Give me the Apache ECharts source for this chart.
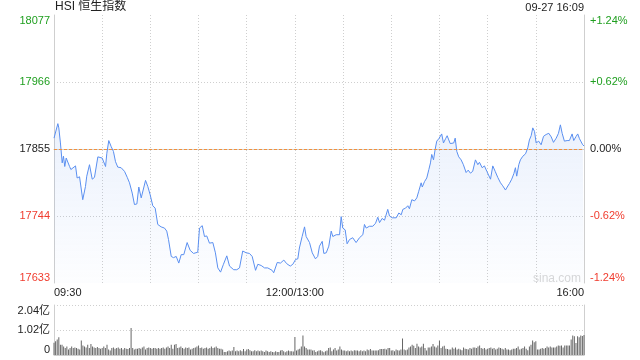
<!DOCTYPE html>
<html><head><meta charset="utf-8">
<script src="https://cdn.jsdelivr.net/npm/echarts@6/dist/echarts.min.js"></script>
<style>html,body{margin:0;padding:0;background:#fff}#c{width:640px;height:360px}</style>
</head><body><div id="c"></div>
<script>
const chartTitle = 'HSI 恒生指数';
const stamp = '09-27 16:09';
const watermark = 'sina.com';
const prevClose = 17855;
const priceTicks = [17633, 17744, 17855, 17966, 18077];
const pctTicks = [-1.24, -0.62, 0, 0.62, 1.24];
const volTicks = [0, 1.02, 2.04];
const timeLabels = {0: '09:30', 150: '12:00/13:00', 330: '16:00'};

// minutes since 09:30 (lunch break removed) and index level
const priceMinutes = [0,0.9,2.4,3.0,4.0,5.1,5.9,6.7,7.6,8.6,9.7,10.5,11.7,13.4,14.4,15.9,17.9,19.6,20.4,22.1,23.8,25.2,27.3,30.0,32.1,32.9,34.1,35.6,37.0,38.3,39.7,41.8,43.9,45.6,47.0,48.7,50.1,51.6,52.8,54.3,55.3,57.0,58.4,59.9,61.5,63.0,64.6,66.7,68.8,70.2,71.3,73.0,74.4,76.1,77.7,79.2,80.8,82.9,84.8,86.9,89.5,90.6,92.3,93.7,95.1,96.8,98.9,100.5,102.0,103.7,105.5,107.6,109.3,110.3,111.9,113.8,115.5,117.5,119.7,121.7,123.4,125.5,126.9,129.0,131.1,133.1,135.8,136.8,139.0,141.0,143.1,144.9,147.1,148.7,150.4,151.8,152.8,154.5,156.0,157.0,159.1,160.8,162.8,164.2,165.3,167.0,168.0,169.5,171.1,172.6,173.6,175.7,177.8,178.8,179.8,181.3,182.5,184.0,186.0,188.1,190.2,192.3,193.3,194.4,196.4,198.5,200.2,201.6,202.7,204.3,205.8,207.8,208.9,210.6,213.1,214.7,216.2,217.2,218.9,220.3,221.3,222.8,224.5,225.9,227.1,228.6,229.3,230.7,232.1,233.4,234.4,235.2,236.3,237.3,238.3,239.6,241.4,242.5,243.8,244.8,245.8,246.7,247.9,248.9,249.8,250.8,252.0,253.5,254.9,256.6,257.9,259.3,260.7,262.4,263.9,264.9,266.6,268.0,269.5,270.7,271.8,273.2,274.7,276.3,278.0,279.4,281.1,282.2,283.6,285.0,286.3,287.3,288.1,289.4,290.4,291.9,293.6,295.0,296.0,297.1,298.1,299.2,300.2,301.8,303.3,304.8,306.4,308.1,309.6,311.0,312.7,314.1,315.3,316.4,317.8,319.5,320.9,322.6,323.6,325.1,326.1,327.2,328.2,329.2,330];
const priceValues = [17873,17870,17897,17890,17865,17832,17843,17826,17840,17842,17826,17821,17819,17827,17807,17809,17771,17793,17810,17829,17805,17808,17842,17840,17826,17848,17869,17859,17851,17834,17825,17824,17818,17808,17799,17782,17763,17764,17792,17774,17774,17803,17793,17779,17761,17757,17730,17726,17724,17719,17705,17677,17675,17677,17666,17680,17680,17700,17687,17682,17684,17724,17728,17710,17711,17699,17700,17683,17658,17651,17664,17678,17661,17664,17655,17655,17658,17686,17683,17682,17677,17654,17664,17662,17658,17658,17654,17650,17667,17666,17671,17665,17661,17664,17672,17673,17691,17710,17726,17710,17700,17683,17673,17677,17694,17702,17682,17683,17694,17719,17710,17713,17713,17743,17724,17721,17698,17705,17708,17700,17708,17713,17730,17724,17727,17727,17732,17742,17733,17740,17737,17755,17744,17741,17741,17749,17746,17755,17757,17761,17756,17771,17769,17774,17785,17799,17792,17801,17807,17821,17832,17846,17837,17854,17868,17872,17880,17865,17872,17877,17870,17864,17866,17865,17873,17851,17842,17837,17829,17816,17820,17815,17818,17837,17829,17833,17824,17827,17818,17816,17805,17827,17818,17808,17799,17794,17787,17792,17798,17805,17814,17824,17810,17829,17837,17843,17847,17857,17870,17877,17890,17884,17865,17868,17862,17876,17879,17881,17875,17866,17873,17881,17895,17881,17868,17869,17869,17880,17869,17876,17880,17872,17875,17862,17860];

// volume per minute (亿), minute 0..330
const volumes = [
0.50,0.56,0.63,0.72,0.42,0.42,0.35,0.29,0.35,0.22,0.29,0.35,0.29,0.31,0.29,0.26,0.22,0.59,0.39,0.35,
0.31,0.42,0.29,0.45,0.35,0.31,0.29,0.33,0.29,0.26,0.29,0.35,0.29,0.42,0.22,0.18,0.29,0.31,0.26,0.29,
0.31,0.26,0.29,0.22,0.29,0.26,0.24,0.29,1.10,0.29,0.22,0.26,0.26,0.29,0.26,0.31,0.35,0.22,0.29,0.31,
0.29,0.26,0.29,0.29,0.26,0.29,0.26,0.29,0.31,0.26,0.31,0.35,0.29,0.42,0.26,0.42,0.45,0.29,0.31,0.35,
0.29,0.26,0.31,0.29,0.31,0.22,0.26,0.29,0.31,0.35,0.39,0.29,0.31,0.26,0.29,0.31,0.26,0.29,0.35,0.29,
0.31,0.35,0.29,0.26,0.26,0.22,
0.12,0.12,0.15,0.18,0.15,0.18,0.33,0.15,0.18,0.15,0.19,0.15,0.24,0.15,0.22,0.24,0.19,0.15,0.15,0.19,
0.15,0.18,0.15,0.18,0.15,0.12,0.18,0.15,0.12,0.15,0.12,0.11,0.15,0.12,0.12,0.18,0.20,0.15,0.11,0.15,
0.18,0.15,0.15,0.14,0.73,0.18,0.22,0.26,0.35,0.80,0.35,0.29,0.22,0.22,0.22,0.18,0.19,0.12,0.15,0.18,
0.19,0.15,0.11,0.15,0.18,0.29,0.31,0.15,0.22,0.29,0.18,0.22,0.35,0.22,0.18,0.18,0.15,0.18,0.15,0.18,
0.15,0.19,0.18,0.18,0.15,0.19,0.15,0.18,0.15,0.22,0.19,0.24,0.18,0.18,0.18,0.18,0.19,0.24,0.24,0.24,
0.26,0.22,0.29,0.29,0.18,0.19,0.15,0.22,0.19,0.18,0.22,0.67,0.22,0.19,0.22,0.31,0.35,0.42,0.38,
0.29,0.46,0.35,0.31,0.35,0.46,0.29,0.18,0.31,0.31,0.35,0.45,0.35,0.31,0.39,0.59,0.29,0.35,0.38,0.26,
0.24,0.22,0.22,0.31,0.26,0.31,0.22,0.26,0.22,0.19,0.31,0.26,0.24,0.22,0.29,0.26,0.31,0.31,0.29,0.35,
0.39,0.29,0.26,0.29,0.22,0.26,0.29,0.31,0.26,0.29,0.22,0.26,0.31,0.29,0.26,0.22,0.29,0.22,0.22,0.19,
0.22,0.26,0.26,0.29,0.35,0.22,0.26,0.29,0.35,0.26,0.19,0.35,0.42,0.59,0.52,0.56,0.22,0.22,0.26,0.29,
0.26,0.29,0.35,0.31,0.35,0.31,0.31,0.31,0.35,0.39,0.38,0.39,0.31,0.39,0.39,0.39,0.39,0.63,0.80,0.76,
0.49,0.76,0.72,0.80,0.78,0.82
];

const FONT = '"Liberation Sans", Arial, "Noto Sans CJK SC", sans-serif';
const GREEN = '#1f9f1f', RED = '#f03c2e', DARK = '#222', GRID = '#cfcfcf';
const priceColor = v => v > prevClose ? GREEN : (v < prevClose ? RED : DARK);
const pctColor = v => v > 0.0001 ? GREEN : (v < -0.0001 ? RED : DARK);
const pctFmt = v => Math.abs(v) < 0.0001 ? '0.00%' : (v > 0 ? '+' : '') + v.toFixed(2) + '%';

const chart = echarts.init(document.getElementById('c'));
chart.setOption({
  animation: false,
  textStyle: {fontFamily: FONT},
  grid: [
    {left: 54, right: 56, top: 15, height: 268},
    {left: 54, right: 56, top: 305, height: 50}
  ],
  xAxis: [
    {type: 'value', gridIndex: 0, min: 0, max: 330, interval: 30,
     axisLine: {show: true, lineStyle: {color: GRID}}, axisTick: {show: false},
     axisLabel: {formatter: v => timeLabels[v] || '', color: DARK, fontSize: 11, margin: 4,
                 alignMinLabel: 'left', alignMaxLabel: 'right', hideOverlap: false},
     splitLine: {show: true, showMinLine: false, showMaxLine: false, lineStyle: {color: GRID, type: [1, 2]}}},
    {type: 'value', gridIndex: 1, min: 0, max: 330, interval: 30,
     axisLine: {show: true, lineStyle: {color: GRID}}, axisTick: {show: false},
     axisLabel: {show: false}, splitLine: {show: false}}
  ],
  yAxis: [
    {type: 'value', gridIndex: 0, min: priceTicks[0], max: priceTicks[4], interval: priceTicks[1] - priceTicks[0],
     axisLine: {show: true, lineStyle: {color: GRID}}, axisTick: {show: false},
     axisLabel: {formatter: v => String(Math.round(v)), color: v => priceColor(v), fontSize: 11, margin: 4,
                 verticalAlignMinLabel: 'bottom', verticalAlignMaxLabel: 'top'},
     splitLine: {show: true, showMinLine: false, showMaxLine: false, lineStyle: {color: GRID, type: [1, 2]}}},
    {type: 'value', gridIndex: 0, position: 'right', min: pctTicks[0], max: pctTicks[4], interval: pctTicks[3],
     axisLine: {show: true, lineStyle: {color: GRID}}, axisTick: {show: false},
     axisLabel: {formatter: pctFmt, color: v => pctColor(v), fontSize: 11, margin: 6,
                 verticalAlignMinLabel: 'bottom', verticalAlignMaxLabel: 'top'},
     splitLine: {show: false}},
    {type: 'value', gridIndex: 1, min: volTicks[0], max: volTicks[2], interval: volTicks[1],
     axisLine: {show: true, lineStyle: {color: GRID}}, axisTick: {show: false},
     axisLabel: {formatter: v => v === 0 ? '0' : v.toFixed(2) + '亿', color: DARK, fontSize: 11, margin: 4,
                 verticalAlignMinLabel: 'bottom', verticalAlignMaxLabel: 'top'},
     splitLine: {show: true, showMinLine: false, lineStyle: {color: GRID, type: [1, 2]}}},
    {type: 'value', gridIndex: 1, position: 'right', min: volTicks[0], max: volTicks[2], interval: volTicks[1],
     axisLine: {show: true, lineStyle: {color: GRID}}, axisTick: {show: false},
     axisLabel: {show: false}, splitLine: {show: false}}
  ],
  series: [
    {type: 'line', xAxisIndex: 0, yAxisIndex: 0, showSymbol: false, silent: true, z: 3,
     data: priceMinutes.map((m, i) => [m, priceValues[i]]),
     lineStyle: {color: '#5a8ff0', width: 1},
     areaStyle: {origin: 'start', color: new echarts.graphic.LinearGradient(0, 0, 0, 1, [
        {offset: 0, color: 'rgba(80,135,235,0.16)'}, {offset: 1, color: 'rgba(80,135,235,0.02)'}])},
     markLine: {silent: true, symbol: 'none', label: {show: false}, z: 5,
                lineStyle: {color: '#f0903c', type: [3, 2], width: 1, opacity: 1},
                emphasis: {disabled: true},
                data: [{yAxis: prevClose}]}},
    {type: 'bar', xAxisIndex: 1, yAxisIndex: 2, barWidth: 1, silent: true,
     data: volumes.map((v, i) => [i, v]), itemStyle: {color: '#666'}}
  ],
  graphic: [
    {type: 'text', left: 55, top: 1, style: {text: chartTitle, font: '12px ' + FONT, fill: '#222'}},
    {type: 'text', right: 56, top: 2, style: {text: stamp, font: '11px ' + FONT, fill: '#222'}},
    {type: 'text', left: 533, top: 273, style: {text: watermark, font: '12px ' + FONT, fill: '#d8d8d8'}}
  ]
});
</script></body></html>
